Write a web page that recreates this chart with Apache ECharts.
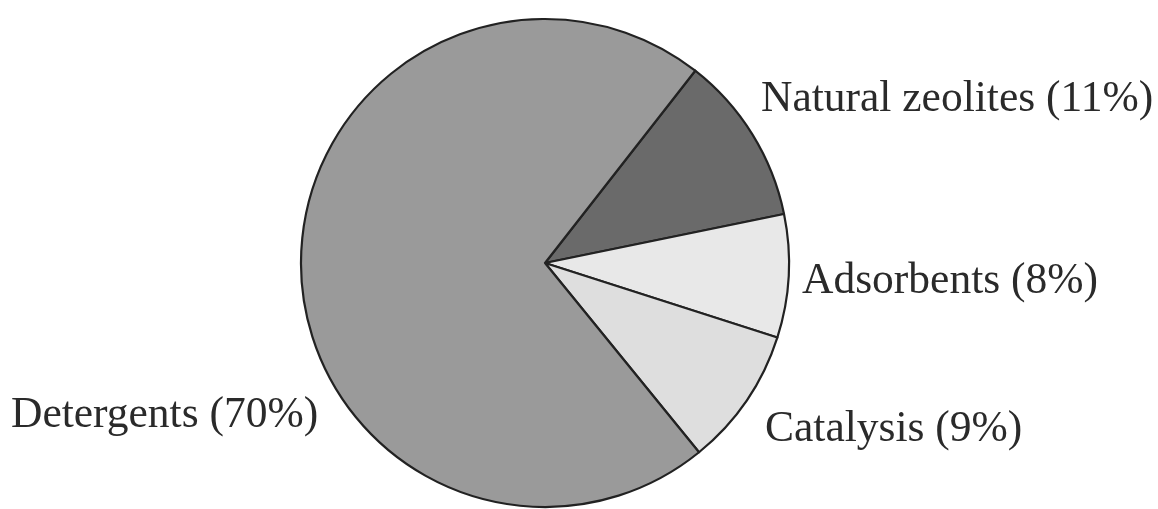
<!DOCTYPE html>
<html>
<head>
<meta charset="utf-8">
<title>Zeolite uses</title>
<script src="https://cdn.jsdelivr.net/npm/echarts@6/dist/echarts.min.js"></script>
<style>
  html, body { margin: 0; padding: 0; background: #ffffff; }
  #chart { width: 1158px; height: 509px; }
</style>
</head>
<body>
<div id="chart"></div>
<script>
// Uses of zeolites, share of total (%)
const categories = ['Natural zeolites', 'Adsorbents', 'Catalysis', 'Detergents'];
const shares = [11, 8, 9, 70];

// Slice fills, in the same order as the categories
const sliceColors = ['#6a6a6a', '#e8e8e8', '#dedede', '#9a9a9a'];

// Where each label sits (left edge, vertical middle)
const labelSpots = [
  { x: 761, y: 100 },
  { x: 802, y: 282 },
  { x: 765, y: 430 },
  { x: 11, y: 416 }
];

const chart = echarts.init(document.getElementById('chart'), null, { renderer: 'canvas' });

chart.setOption({
  animation: false,
  backgroundColor: '#ffffff',
  series: [{
    type: 'pie',
    center: [545, 263],
    radius: 244,
    startAngle: 52,
    clockwise: true,
    avoidLabelOverlap: false,
    silent: true,
    data: categories.map((name, i) => ({
      name: name,
      value: shares[i],
      itemStyle: { color: sliceColors[i] }
    })),
    itemStyle: {
      borderColor: '#222222',
      borderWidth: 2.2
    },
    label: {
      show: true,
      position: 'outside',
      formatter: '{b} ({c}%)',
      fontFamily: '"Liberation Serif", "DejaVu Serif", serif',
      fontSize: 43.5,
      color: '#2a2a2a'
    },
    labelLine: { show: false },
    labelLayout: function (params) {
      const spot = labelSpots[params.dataIndex];
      return {
        x: spot.x,
        y: spot.y,
        align: 'left',
        verticalAlign: 'middle'
      };
    }
  }]
});
</script>
</body>
</html>
